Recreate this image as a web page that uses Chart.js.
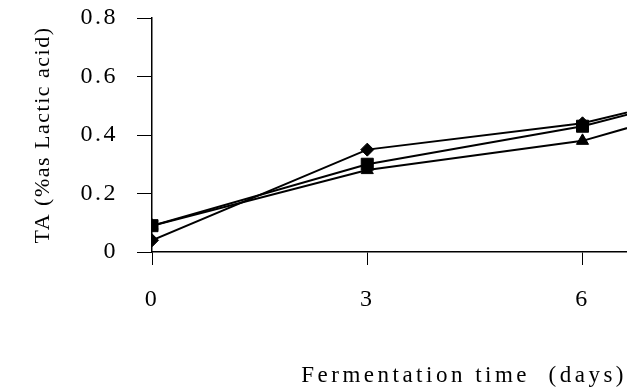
<!DOCTYPE html>
<html>
<head>
<meta charset="utf-8">
<script src="https://cdn.jsdelivr.net/npm/chart.js@4.4.1/dist/chart.umd.min.js"></script>
<style>
  html, body { margin: 0; padding: 0; background: #ffffff; }
  #wrap { width: 627px; height: 392px; position: relative; }
</style>
</head>
<body>
<div id="wrap"><canvas id="chart" width="627" height="392"></canvas></div>
<script>
// Titratable acidity over the fermentation period, three treatments
const days = [0, 3, 6, 9];
const taDiamond = [0.04, 0.35, 0.44, 0.62];
const taSquare = [0.09, 0.30, 0.43, 0.62];
const taTriangle = [0.09, 0.28, 0.38, 0.59];

const xTickValues = [0, 3, 6];
const yTickValues = [0, 0.2, 0.4, 0.6, 0.8];

const xTitle = 'Fermentation time  (days)';
const yTitle = 'TA (%as Lactic acid)';

const serif = '"Liberation Serif", "Times New Roman", serif';

function toPoints(values) {
  return days.map((d, i) => ({ x: d, y: values[i] }));
}

function series(label, values, style, radius) {
  return {
    label: label,
    data: toPoints(values),
    borderColor: '#000000',
    backgroundColor: '#000000',
    borderWidth: 2,
    pointStyle: style,
    pointRadius: radius,
    pointHoverRadius: radius,
    pointBorderWidth: 1,
    pointBackgroundColor: '#000000',
    pointBorderColor: '#000000',
    tension: 0,
    fill: false
  };
}

// spaced-out lettering for tick labels, a little wider for the axis titles
const letterSpacing = {
  id: 'letterSpacing',
  beforeUpdate(chart) { chart.ctx.letterSpacing = '2.5px'; },
  beforeDraw(chart) { chart.ctx.letterSpacing = '2.5px'; }
};

function spacedTitle(scale, spacing) {
  if (scale._spacedTitle) return;
  scale._spacedTitle = true;
  const drawTitle = scale.drawTitle;
  scale.drawTitle = function () {
    const ctx = this.ctx;
    ctx.save();
    ctx.letterSpacing = spacing;
    drawTitle.call(this);
    ctx.restore();
  };
}

new Chart(document.getElementById('chart'), {
  type: 'line',
  data: {
    datasets: [
      series('Triangle', taTriangle, 'triangle', 7),
      series('Square', taSquare, 'rect', 8.5),
      series('Diamond', taDiamond, 'rectRot', 6.5)
    ]
  },
  options: {
    responsive: false,
    animation: false,
    events: [],
    layout: { autoPadding: false, padding: { top: 18, right: 0, bottom: 0, left: 0 } },
    plugins: {
      legend: { display: false },
      tooltip: { enabled: false }
    },
    scales: {
      x: {
        type: 'linear',
        min: 0,
        max: 6.62,
        afterBuildTicks(scale) { scale.ticks = xTickValues.map(v => ({ value: v })); },
        afterFit(scale) {
          scale.height = 140;
          scale.paddingLeft = 0;
          scale.paddingRight = 0;
          spacedTitle(scale, '3.5px');
        },
        grid: {
          drawOnChartArea: false,
          drawTicks: true,
          tickLength: 13,
          color: '#000000',
          lineWidth: 1
        },
        border: { display: true, color: '#000000', width: 1.5 },
        ticks: {
          color: '#000000',
          padding: 20,
          maxRotation: 0,
          font: { family: serif, size: 24 },
          callback: v => String(v)
        },
        title: {
          display: true,
          text: xTitle,
          align: 'end',
          color: '#000000',
          padding: { top: 16, bottom: 2 },
          font: { family: serif, size: 23 }
        }
      },
      y: {
        min: 0,
        max: 0.8,
        afterBuildTicks(scale) { scale.ticks = yTickValues.map(v => ({ value: v })); },
        afterFit(scale) {
          scale.width = 152;
          scale.paddingTop = 0;
          scale.paddingBottom = 0;
          spacedTitle(scale, '1.5px');
        },
        grid: {
          drawOnChartArea: false,
          drawTicks: true,
          tickLength: 15,
          color: '#000000',
          lineWidth: 1
        },
        border: { display: true, color: '#000000', width: 1.5 },
        ticks: {
          color: '#000000',
          padding: 19,
          font: { family: serif, size: 24 },
          callback: v => (v === 0 ? '0' : v.toFixed(1))
        },
        title: {
          display: true,
          text: yTitle,
          color: '#000000',
          padding: { top: 30, bottom: 0 },
          font: { family: serif, size: 22 }
        }
      }
    }
  },
  plugins: [letterSpacing]
});
</script>
</body>
</html>
